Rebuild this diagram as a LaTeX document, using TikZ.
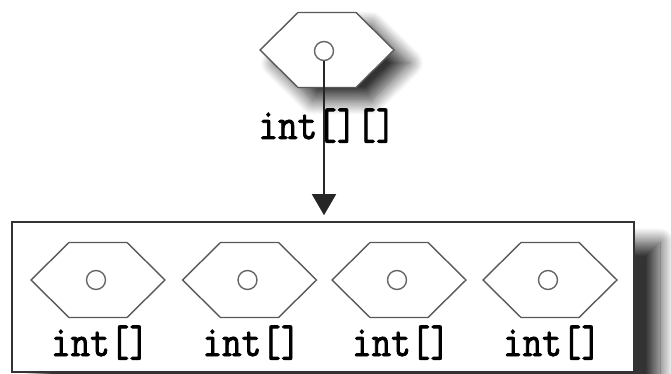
\documentclass[tikz,border=0pt]{standalone}
\usepackage{fontspec}
\newfontfamily\codefont{Latin Modern Mono}[FakeBold=2]
\usetikzlibrary{shadows.blur,arrows.meta}
\tikzset{
  hexline/.style={draw=black!65, line width=1.4pt, fill=white},
  hole/.style={circle, draw=black!60, line width=1.4pt, fill=white, minimum size=19pt, inner sep=0pt},
  lbl/.style={anchor=base, inner sep=0pt, font=\fontsize{38}{40}\codefont},
  hexa/.pic={
    \path[hexline, pic actions] (-67,0) -- (-29,-37.5) -- (29,-37.5) -- (67,0) -- (29,37.5) -- (-29,37.5) -- cycle;
    \node[hole] (-hole) at (-2,0) {};
  },
  arr/.style={line width=1.6pt, draw=black!85, -{Triangle[length=21pt,width=24pt]}, shorten >=6pt},
}
\newcommand{\tallt}[1]{\scalebox{1}[1.15]{#1}}
\begin{document}
\begin{tikzpicture}[x=1pt,y=-1pt]
\useasboundingbox (0,0) rectangle (671,374);
% bottom box
\node[draw=black!80, line width=1.6pt, fill=white, minimum width=622pt, minimum height=150pt, inner sep=0pt,
  blur shadow={shadow xshift=26pt, shadow yshift=-20pt, shadow blur radius=14pt, shadow opacity=80, shadow blur steps=20}] (box) at (323,297) {};
% top hexagon
\path[hexline, blur shadow={shadow xshift=15pt, shadow yshift=-13pt, shadow blur radius=14pt, shadow opacity=80, shadow blur steps=20}]
  (260,50) -- (298,12.5) -- (356,12.5) -- (394,50) -- (356,87.5) -- (298,87.5) -- cycle;
\node[hole] (tophole) at (324,51) {};
\node[lbl] (toplbl) at (327,139) {\tallt{int[][]}};
% arrow
\draw[arr] (tophole) -- (tophole |- box.north);
% inner hexagons
\foreach \i/\cx in {1/98,2/249.5,3/399,4/550}{
  \pic (h\i) at (\cx,280) {hexa};
  \node[lbl] (l\i) at (\cx+2,356) {\tallt{int[]}};
}
\end{tikzpicture}
\end{document}
